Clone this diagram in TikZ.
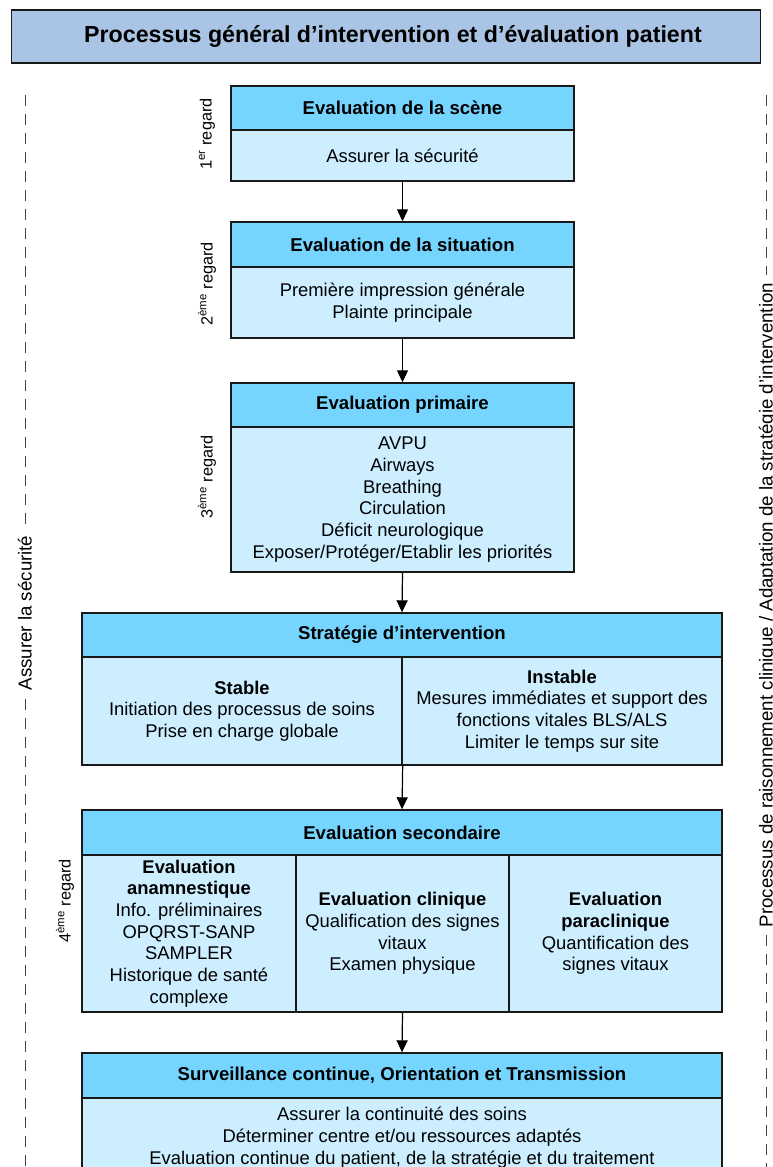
\documentclass[tikz,border=0pt]{standalone}
\usepackage{fontspec}
\setmainfont{Liberation Sans}
\usetikzlibrary{arrows.meta}
\definecolor{hdrblue}{RGB}{118,213,255}
\definecolor{bodblue}{RGB}{204,238,255}
\definecolor{ttlblue}{RGB}{169,196,228}
\definecolor{edge}{RGB}{25,25,25}
\begin{document}
\begin{tikzpicture}[x=1pt,y=-1pt,
  part/.style={draw=edge, line width=1.4pt, inner sep=0pt, align=center},
  hdr/.style={part, fill=hdrblue, font=\bfseries\fontsize{18.6}{22}\selectfont},
  bod/.style={part, fill=bodblue, font=\fontsize{18.4}{21.7}\selectfont},
  ttl/.style={part, fill=ttlblue},
  ttltext/.style={inner sep=0pt, font=\bfseries\fontsize{23.2}{26}\selectfont},
  regard/.style={font=\fontsize{16.3}{18}\selectfont, inner sep=0pt},
  side/.style={font=\fontsize{18.7}{20}\selectfont, inner ysep=0pt, inner xsep=8pt},
  sidedash/.style={draw=black!75, line width=0.9pt, dash pattern=on 11pt off 8pt},
  arr/.style={draw=black, line width=1.2pt, -{Triangle[length=12pt,width=11pt]}}
]
\useasboundingbox (0,0) rectangle (773,1167);
\clip (0,0) rectangle (773,1167);

% title
\node[ttl, minimum width=749, minimum height=53] (title) at (386,36.5) {};
\node[ttltext] (titletext) at (393,36.5)
  {Processus général d’intervention et d’évaluation patient};

% box 1
\node[hdr, minimum width=343, minimum height=44] (h1) at (402.5,108) {Evaluation de la scène};
\node[bod, minimum width=343, minimum height=51] (b1) at (402.5,155.5) {Assurer la sécurité};
% box 2
\node[hdr, minimum width=343, minimum height=45] (h2) at (402.5,244.5) {Evaluation de la situation};
\node[bod, minimum width=343, minimum height=71] (b2) at (402.5,302.5)
  {Première impression générale\\Plainte principale};
% box 3
\node[hdr, minimum width=343, minimum height=44] (h3) at (402.5,405) {Evaluation primaire};
\node[bod, minimum width=343, minimum height=145] (b3) at (402.5,499.5)
  {AVPU\\Airways\\Breathing\\Circulation\\Déficit neurologique\\Exposer/Protéger/Etablir les priorités};
% box 4
\node[hdr, minimum width=640, minimum height=44] (h4) at (402,635) {Stratégie d’intervention};
\node[bod, minimum width=320, minimum height=108] (b4l) at (242,711)
  {\textbf{Stable}\\Initiation des processus de soins\\Prise en charge globale};
\node[bod, minimum width=320, minimum height=108] (b4r) at (562,711)
  {\textbf{Instable}\\Mesures immédiates et support des\\fonctions vitales BLS/ALS\\Limiter le temps sur site};
% box 5
\node[hdr, minimum width=640, minimum height=45] (h5) at (402,832.5) {Evaluation secondaire};
\node[bod, minimum width=214, minimum height=157] (b5a) at (189,933.5)
  {\textbf{Evaluation}\\\textbf{anamnestique}\\Info. préliminaires\\OPQRST-SANP\\SAMPLER\\Historique de santé\\complexe};
\node[bod, minimum width=213, minimum height=157] (b5b) at (402.5,933.5)
  {\textbf{Evaluation clinique}\\Qualification des signes\\vitaux\\Examen physique};
\node[bod, minimum width=213, minimum height=157] (b5c) at (615.5,933.5)
  {\textbf{Evaluation}\\\textbf{paraclinique}\\Quantification des\\signes vitaux};
% box 6
\node[hdr, minimum width=640, minimum height=45] (h6) at (402,1075.5)
  {Surveillance continue, Orientation et Transmission};
\node[bod, minimum width=640, minimum height=78] (b6) at (402,1137.5)
  {Assurer la continuité des soins\\Déterminer centre et/ou ressources adaptés\\Evaluation continue du patient, de la stratégie et du traitement};

% arrows
\draw[arr] (b1.south) -- (h2.north);
\draw[arr] (b2.south) -- (h3.north);
\draw[arr] (b3.south) -- (h4.north);
\draw[arr] (b4l.south east) -- (h5.north);
\draw[arr] (b5b.south) -- (h6.north);

% regard labels
\node[regard, rotate=90] (r1) at (207,134) {1\textsuperscript{er} regard};
\node[regard, rotate=90] (r2) at (207,284) {2\textsuperscript{ème} regard};
\node[regard, rotate=90] (r3) at (207,477) {3\textsuperscript{ème} regard};
\node[regard, rotate=90] (r4) at (65,901) {4\textsuperscript{ème} regard};

% side labels
\coordinate (ltop) at (25,95);
\coordinate (lbot) at (25,1175);
\node[side, rotate=90, anchor=base] (ltxt) at (31.5,613) {Assurer la sécurité};
\draw[sidedash] (ltop) -- (ltop |- ltxt.east);
\draw[sidedash] (lbot |- ltxt.west) -- (lbot);

\coordinate (rtop) at (766,95);
\coordinate (rbot) at (766,1175);
\node[side, rotate=90, anchor=base] (rtxt) at (772.5,605)
  {Processus de raisonnement clinique / Adaptation de la stratégie d’intervention};
\draw[sidedash] (rtop) -- (rtop |- rtxt.east);
\draw[sidedash] (rbot |- rtxt.west) -- (rbot);
\end{tikzpicture}
\end{document}
